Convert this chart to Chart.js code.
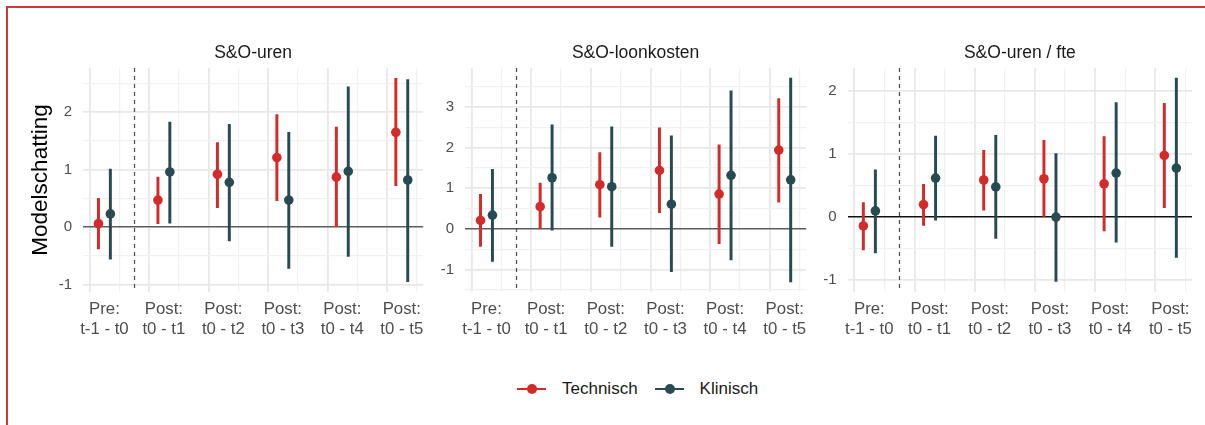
<!DOCTYPE html>
<html>
<head>
<meta charset="utf-8">
<script src="https://cdn.jsdelivr.net/npm/chart.js@4.4.1/dist/chart.umd.min.js"></script>
<style>
  body {
    margin: 0;
    width: 1205px;
    height: 425px;
    overflow: hidden;
    position: relative;
    background: #fff;
    font-family: "Liberation Sans", Arial, sans-serif;
  }
  .frame {
    position: absolute;
    left: 6px;
    top: 6px;
    width: 1220px;
    height: 440px;
    border-top: 2px solid #cc3b3b;
    border-left: 2px solid #cc3b3b;
  }
  canvas.panel {
    position: absolute;
    top: 0;
  }
  #legend {
    position: absolute;
    left: 517px;
    top: 379px;
    display: flex;
    align-items: center;
    font-size: 17px;
    color: #1a1a1a;
  }
  .item {
    display: flex;
    align-items: center;
    margin-right: 17px;
  }
  .key {
    position: relative;
    width: 29px;
    height: 20px;
    margin-right: 16px;
  }
  .key .ln {
    position: absolute;
    left: 0;
    right: 0;
    top: 9px;
    height: 2px;
  }
  .key .dot {
    position: absolute;
    left: 10px;
    top: 5px;
    width: 10px;
    height: 10px;
    border-radius: 50%;
  }
</style>
</head>
<body>
<div class="frame"></div>
<canvas class="panel" id="p1" width="428" height="345" style="left:0px"></canvas>
<canvas class="panel" id="p2" width="396" height="345" style="left:415px"></canvas>
<canvas class="panel" id="p3" width="405" height="345" style="left:800px"></canvas>
<div id="legend"></div>

<script>
// x-axis categories (two-line labels)
const categories = [
  ["Pre:", "t-1 - t0"],
  ["Post:", "t0 - t1"],
  ["Post:", "t0 - t2"],
  ["Post:", "t0 - t3"],
  ["Post:", "t0 - t4"],
  ["Post:", "t0 - t5"],
];
const seriesNames = ["Technisch", "Klinisch"];
const seriesColors = ["#d42a2a", "#284a52"];
const panelTitles = ["S&O-uren", "S&O-loonkosten", "S&O-uren / fte"];

// S&O-uren
const urenTechEst = [0.06, 0.47, 0.92, 1.21, 0.87, 1.65];
const urenTechLo = [-0.38, 0.06, 0.34, 0.46, 0.0, 0.72];
const urenTechHi = [0.5, 0.87, 1.47, 1.96, 1.74, 2.59];
const urenKlinEst = [0.23, 0.96, 0.78, 0.47, 0.97, 0.82];
const urenKlinLo = [-0.56, 0.07, -0.24, -0.72, -0.51, -0.95];
const urenKlinHi = [1.01, 1.83, 1.79, 1.65, 2.44, 2.57];

// S&O-loonkosten
const loonTechEst = [0.21, 0.55, 1.09, 1.44, 0.86, 1.94];
const loonTechLo = [-0.43, 0.0, 0.29, 0.4, -0.36, 0.66];
const loonTechHi = [0.85, 1.13, 1.88, 2.49, 2.07, 3.21];
const loonKlinEst = [0.34, 1.26, 1.04, 0.61, 1.32, 1.21];
const loonKlinLo = [-0.8, -0.03, -0.43, -1.05, -0.76, -1.3];
const loonKlinHi = [1.47, 2.56, 2.51, 2.29, 3.4, 3.71];

// S&O-uren / fte
const fteTechEst = [-0.14, 0.2, 0.59, 0.61, 0.53, 0.98];
const fteTechLo = [-0.52, -0.13, 0.11, 0.0, -0.22, 0.15];
const fteTechHi = [0.23, 0.52, 1.06, 1.22, 1.28, 1.81];
const fteKlinEst = [0.1, 0.62, 0.48, 0.0, 0.7, 0.78];
const fteKlinLo = [-0.57, -0.05, -0.34, -1.02, -0.4, -0.64];
const fteKlinHi = [0.75, 1.29, 1.3, 1.01, 1.82, 2.21];

// y ranges per panel
const yMins = [-1.13, -1.55, -1.19];
const yMaxs = [2.77, 3.96, 2.37];

const panels = [
  {
    id: "p1", yWidth: 83, padRight: 1, zero: "#5c5c5c",
    est: [urenTechEst, urenKlinEst], lo: [urenTechLo, urenKlinLo], hi: [urenTechHi, urenKlinHi],
  },
  {
    id: "p2", yWidth: 50, padRight: 2, zero: "#5c5c5c",
    est: [loonTechEst, loonKlinEst], lo: [loonTechLo, loonKlinLo], hi: [loonTechHi, loonKlinHi],
  },
  {
    id: "p3", yWidth: 47.7, padRight: 13, zero: "#111111",
    est: [fteTechEst, fteKlinEst], lo: [fteTechLo, fteKlinLo], hi: [fteTechHi, fteKlinHi],
  },
];

const dodge = [-0.1, 0.1];
const isWhole = (v) => Math.abs(v - Math.round(v)) < 1e-6;
const tickVal = (c) => (c.tick ? c.tick.value : 0.5);

// vertical dashed line between Pre and Post
const prePostLine = {
  id: "prePostLine",
  beforeDatasetsDraw(chart) {
    const { ctx, chartArea, scales } = chart;
    const px = Math.round(scales.x.getPixelForValue(0.5)) + 0.5;
    ctx.save();
    ctx.strokeStyle = "#555";
    ctx.lineWidth = 1.3;
    ctx.setLineDash([4, 4]);
    ctx.beginPath();
    ctx.moveTo(px, chartArea.top);
    ctx.lineTo(px, chartArea.bottom);
    ctx.stroke();
    ctx.restore();
  },
};

panels.forEach((panel, p) => {
  const datasets = [];
  seriesNames.forEach((name, s) => {
    datasets.push({
      type: "scatter",
      label: name,
      data: panel.est[s].map((v, i) => ({ x: i + dodge[s], y: v })),
      backgroundColor: seriesColors[s],
      borderWidth: 0,
      pointRadius: 4.8,
      order: 0,
    });
    datasets.push({
      type: "bar",
      label: name + " interval",
      data: panel.lo[s].map((v, i) => ({ x: i + dodge[s], y: [v, panel.hi[s][i]] })),
      backgroundColor: seriesColors[s],
      borderWidth: 0,
      barThickness: 2.3,
      grouped: false,
      order: 1,
    });
  });

  new Chart(document.getElementById(panel.id), {
    type: "scatter",
    data: { datasets: datasets },
    plugins: [prePostLine],
    options: {
      responsive: false,
      animation: false,
      layout: { padding: { left: 0, right: panel.padRight, top: 0, bottom: 0 } },
      plugins: { legend: { display: false }, tooltip: { enabled: false } },
      scales: {
        x: {
          type: "linear",
          position: "bottom",
          min: -0.36,
          max: 5.36,
          offset: false,
          border: { display: false },
          grid: {
            drawTicks: false,
            color: (c) => (isWhole(tickVal(c)) ? "#e8e8e8" : "#f1f1f1"),
            lineWidth: (c) => (isWhole(tickVal(c)) ? 1.8 : 1.2),
          },
          ticks: {
            stepSize: 0.5,
            includeBounds: false,
            autoSkip: false,
            maxRotation: 0,
            padding: 7,
            color: "#4d4d4d",
            font: { size: 16.8, lineHeight: 1.2, family: "Liberation Sans" },
            callback: (v) => (isWhole(v) ? categories[Math.round(v)] : ""),
          },
          afterFit(scale) {
            scale.height = 53;
            scale.paddingLeft = 0;
            scale.paddingRight = 0;
          },
        },
        x2: {
          type: "linear",
          position: "top",
          border: { display: false },
          grid: { display: false, drawTicks: false },
          ticks: { display: false },
          title: {
            display: true,
            text: panelTitles[p],
            color: "#1a1a1a",
            font: { size: 17.5, family: "Liberation Sans" },
            padding: { top: 43, bottom: 0 },
          },
          afterFit(scale) {
            scale.height = 68;
            scale.paddingLeft = 0;
            scale.paddingRight = 0;
          },
        },
        y: {
          type: "linear",
          min: yMins[p],
          max: yMaxs[p],
          border: { display: false },
          grid: {
            drawTicks: false,
            color: (c) => {
              const v = tickVal(c);
              if (Math.abs(v) < 1e-6) return panel.zero;
              return isWhole(v) ? "#e8e8e8" : "#f1f1f1";
            },
            lineWidth: (c) => {
              const v = tickVal(c);
              if (Math.abs(v) < 1e-6) return 1.5;
              return isWhole(v) ? 1.8 : 1.2;
            },
          },
          ticks: {
            stepSize: 0.5,
            includeBounds: false,
            autoSkip: false,
            padding: 11,
            color: "#4d4d4d",
            font: { size: 15, family: "Liberation Sans" },
            callback: (v) => (isWhole(v) ? String(Math.round(v)) : ""),
          },
          title: {
            display: p === 0,
            text: "Modelschatting",
            color: "#000",
            font: { size: 22.5, family: "Liberation Sans" },
            padding: { top: 27, bottom: 0 },
          },
          afterFit(scale) {
            scale.width = panel.yWidth;
            scale.paddingTop = 0;
            scale.paddingBottom = 0;
          },
        },
      },
    },
  });
});

// legend
const legend = document.getElementById("legend");
seriesNames.forEach((name, s) => {
  const item = document.createElement("div");
  item.className = "item";
  item.innerHTML =
    '<span class="key"><span class="ln" style="background:' + seriesColors[s] +
    '"></span><span class="dot" style="background:' + seriesColors[s] +
    '"></span></span><span>' + name + "</span>";
  legend.appendChild(item);
});
</script>
</body>
</html>
